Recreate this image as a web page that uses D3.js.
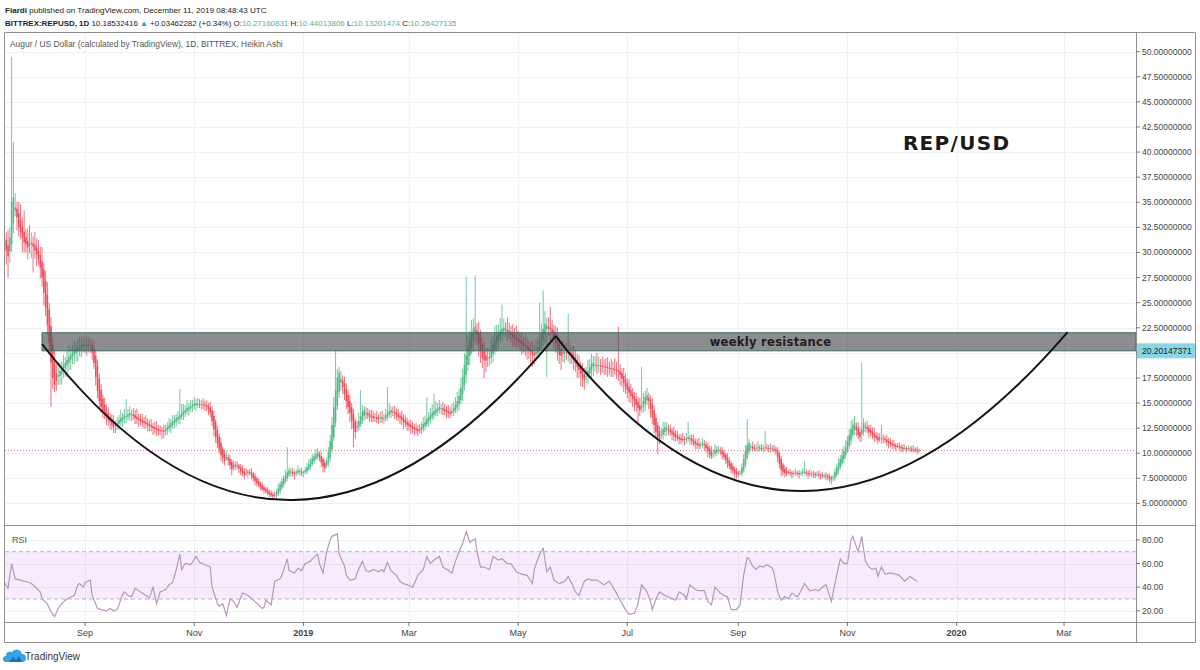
<!DOCTYPE html>
<html><head><meta charset="utf-8"><title>REP/USD Heikin Ashi</title>
<script src="https://cdn.jsdelivr.net/npm/d3@7/dist/d3.min.js"></script>
<style>html,body{margin:0;padding:0;background:#fff;}svg{display:block;font-family:"Liberation Sans",Arial,sans-serif;}</style>
</head><body>
<svg id="chart" width="1200" height="670"></svg>
<script>
// ---------------- DATA ----------------
const startDate = "2018-07-18";
const firstOpen = 31.4;
// Heikin Ashi close per day
const haClose = [
31.0,30.2,29.6,31.5,35.0,35.5,34.5,33.5,32.5,32.0,31.5,31.0,30.8,30.5,30.8,31.0,
30.6,30.2,29.8,29.4,28.5,27.5,26.0,24.5,22.8,21.0,19.0,17.5,16.8,17.2,17.8,18.2,
18.5,18.8,19.0,19.3,19.6,19.8,20.0,20.2,20.4,20.5,20.6,20.8,20.9,20.8,20.7,20.9,
20.8,20.0,19.0,17.6,16.2,15.2,14.6,14.2,13.9,13.6,13.3,13.1,12.8,12.6,12.8,13.0,
13.3,13.5,13.6,13.8,13.7,13.9,14.0,13.9,13.7,13.5,13.4,13.3,13.2,13.1,13.0,12.9,
12.8,12.7,12.6,12.5,12.4,12.3,12.2,12.3,12.2,12.1,12.4,12.6,12.8,13.0,13.2,13.3,
13.5,13.6,13.8,14.0,14.2,14.3,14.5,14.6,14.7,14.8,14.9,15.0,14.9,14.8,14.9,14.8,
14.7,14.6,14.4,14.0,13.2,12.4,11.6,11.0,10.4,9.8,9.5,9.2,9.6,9.3,8.8,8.4,
8.6,8.9,8.7,8.5,8.2,8.0,7.8,8.0,8.2,8.1,7.8,7.5,7.2,7.0,6.8,6.6,
6.4,6.3,6.2,6.0,5.9,5.8,5.7,5.8,6.1,6.5,6.9,7.2,7.5,7.8,8.1,8.3,
8.2,8.0,7.9,8.1,8.3,8.2,8.0,8.1,8.3,8.6,8.9,9.2,9.5,9.7,9.9,10.1,
9.6,9.1,8.7,8.5,9.2,10.1,11.2,12.8,14.6,16.3,17.5,18.0,17.4,16.6,15.9,15.2,
14.6,14.0,13.2,12.5,12.1,12.6,13.2,13.7,14.1,14.3,14.0,13.8,13.6,13.7,13.5,13.6,
13.4,13.5,13.6,13.4,13.5,13.8,14.0,14.2,14.3,14.1,14.0,13.8,13.6,13.5,13.3,13.1,
13.0,12.8,12.7,12.6,12.5,12.4,12.3,12.2,12.3,12.6,12.9,13.1,13.4,13.6,13.8,14.0,
14.2,14.4,14.5,14.6,14.5,14.3,14.2,14.1,14.0,13.9,14.2,14.5,14.8,15.2,15.7,16.5,
17.6,18.8,19.8,20.6,21.4,22.0,22.4,22.6,21.8,21.0,20.2,19.5,19.3,19.2,19.4,19.6,
20.2,20.8,21.3,21.7,22.0,22.2,22.4,22.5,22.3,22.1,22.0,21.8,21.6,21.4,21.3,21.1,
21.0,20.8,20.7,20.6,20.4,20.2,20.0,19.8,19.7,20.1,20.6,21.2,21.8,22.4,22.9,22.7,
22.5,22.3,22.0,21.5,21.0,20.4,19.8,19.7,19.9,20.1,20.0,20.2,20.0,19.7,19.3,19.0,
18.6,18.3,17.9,17.5,17.3,17.7,18.2,18.6,18.9,19.0,18.8,18.7,18.8,18.7,18.6,18.6,
18.5,18.5,18.4,18.4,18.3,18.3,18.2,18.1,17.8,17.4,17.0,16.6,16.3,16.0,15.7,15.4,
15.1,14.8,14.5,14.3,14.7,15.2,15.6,15.8,15.2,14.4,13.6,12.8,12.1,11.6,11.4,11.9,
12.4,12.6,12.5,12.3,12.1,11.9,11.7,11.6,11.5,11.4,11.3,11.4,11.3,11.5,11.6,11.4,
11.2,11.0,10.9,10.8,10.7,10.9,11.0,10.8,10.5,10.2,9.9,9.7,10.0,10.3,10.4,10.3,
10.2,9.9,9.6,9.3,9.0,8.7,8.4,8.2,8.0,7.9,7.9,8.0,8.6,9.4,10.2,10.8,
11.0,10.7,10.5,10.4,10.5,10.6,10.5,10.4,10.5,10.6,10.5,10.4,10.5,10.4,10.3,10.2,
9.6,8.9,8.3,8.1,8.0,8.0,8.1,8.0,7.9,8.0,8.1,8.0,7.9,8.0,8.2,8.1,
8.0,7.9,7.9,8.0,7.9,7.8,7.9,7.8,7.8,7.7,7.8,7.7,7.6,7.5,7.4,7.6,
8.1,8.6,9.0,9.4,9.8,10.2,10.6,11.2,11.8,12.4,12.8,13.0,12.3,11.8,11.6,12.4,
13.0,12.7,12.4,12.1,12.0,11.8,11.6,11.5,11.3,11.4,11.5,11.4,11.3,11.1,11.0,10.9,
10.8,10.7,10.6,10.7,10.6,10.5,10.4,10.5,10.4,10.5,10.4,10.3,10.4,10.3,10.2,10.26427135
];
// upper wick beyond body, per day
const wickHigh = [
1.2,0.8,1.5,1.0,0.6,0.9,1.4,0.7,1.1,1.6,0.9,1.3,0.8,1.2,1.9,1.0,
0.7,1.3,0.9,1.1,0.8,1.4,0.6,1.0,1.2,0.7,0.9,0.8,1.1,0.9,1.3,0.8,
0.7,1.0,0.6,0.9,1.2,0.7,0.8,1.1,0.6,0.9,1.0,0.7,0.8,0.6,0.9,0.7,
0.6,0.5,0.8,0.6,0.7,0.5,0.6,0.4,0.7,0.5,0.6,0.4,0.5,0.7,0.4,0.6,
0.5,0.8,0.4,0.6,0.9,0.5,0.7,0.4,0.6,0.5,0.8,0.4,0.5,0.6,0.4,0.7,
0.5,0.4,0.6,0.3,0.5,0.7,0.4,0.5,0.3,0.6,0.4,0.5,0.7,0.4,0.6,0.5,
0.4,0.6,0.5,0.9,0.7,0.5,0.8,0.4,0.6,0.5,0.7,0.4,0.6,0.5,0.4,0.6,
0.4,0.5,0.3,0.6,0.4,0.5,0.3,0.4,0.3,0.5,0.3,0.4,0.6,0.3,0.4,0.3,
0.5,0.3,0.4,0.2,0.3,0.4,0.3,0.5,0.2,0.3,0.4,0.2,0.3,0.2,0.3,0.2,
0.3,0.2,0.2,0.3,0.2,0.3,0.2,0.4,0.3,0.5,0.3,0.4,0.3,0.5,0.4,0.3,
0.3,0.4,0.2,0.3,0.5,0.3,0.4,0.2,0.3,0.4,0.5,0.3,0.4,0.3,0.5,0.4,
0.3,0.4,0.2,0.3,0.4,0.5,0.6,0.8,1.0,0.7,0.9,0.6,0.8,0.5,0.7,0.6,
0.5,0.6,0.4,0.5,0.3,0.6,0.8,0.5,0.7,0.4,0.6,0.5,0.4,0.6,0.5,0.4,
0.6,0.4,0.5,0.7,0.4,0.6,0.5,0.8,0.4,0.5,0.6,0.4,0.5,0.3,0.6,0.4,
0.5,0.4,0.3,0.5,0.4,0.3,0.5,0.4,0.6,0.5,0.7,0.6,0.8,0.5,0.7,0.9,
0.6,0.8,0.5,0.7,0.4,0.6,0.5,0.4,0.6,0.5,0.7,0.6,0.8,0.9,0.7,1.0,
0.8,1.2,0.9,1.1,0.8,1.3,1.0,0.9,0.7,1.1,0.8,0.6,0.9,0.7,1.0,0.8,
1.2,0.9,1.4,1.1,0.8,1.3,1.0,0.9,0.7,1.2,0.8,0.6,0.9,0.7,1.1,0.8,
0.7,0.9,0.6,1.0,0.8,0.6,0.7,0.9,0.8,1.2,1.0,1.4,1.1,0.9,1.3,0.8,
1.0,0.7,0.9,0.6,0.8,1.1,0.7,0.9,1.2,0.8,1.0,0.7,0.9,0.6,0.8,0.7,
0.6,0.8,0.5,0.7,0.6,0.9,1.1,0.8,1.0,0.7,0.9,1.2,0.8,0.6,0.9,0.7,
0.8,1.0,0.6,0.9,0.7,1.1,0.8,0.6,0.7,0.5,0.8,0.6,0.5,0.7,0.6,0.5,
0.4,0.6,0.5,0.7,0.9,0.8,0.6,0.7,0.5,0.4,0.6,0.5,0.4,0.3,0.5,0.6,
0.7,0.5,0.6,0.4,0.5,0.3,0.6,0.4,0.5,0.3,0.4,0.6,0.3,0.5,0.4,0.3,
0.4,0.5,0.3,0.4,0.6,0.3,0.5,0.4,0.3,0.4,0.3,0.5,0.4,0.6,0.3,0.4,
0.3,0.4,0.3,0.2,0.4,0.3,0.2,0.3,0.2,0.3,0.2,0.3,0.4,0.5,0.6,0.5,
0.4,0.3,0.5,0.3,0.4,0.6,0.3,0.4,0.3,0.5,0.4,0.3,0.5,0.3,0.4,0.3,
0.3,0.2,0.3,0.2,0.3,0.4,0.2,0.3,0.2,0.3,0.4,0.2,0.3,0.2,0.3,0.2,
0.3,0.2,0.4,0.2,0.3,0.2,0.3,0.4,0.2,0.3,0.2,0.3,0.2,0.3,0.2,0.3,
0.4,0.3,0.5,0.4,0.6,0.5,0.7,0.5,0.6,0.8,0.5,0.7,0.4,0.6,0.5,0.6,
0.5,0.4,0.6,0.3,0.5,0.4,0.6,0.3,0.4,0.5,0.3,0.4,0.3,0.5,0.3,0.4,
0.3,0.4,0.2,0.3,0.4,0.2,0.3,0.4,0.2,0.3,0.2,0.3,0.4,0.2,0.3,0.2
];
// lower wick beyond body, per day
const wickLow = [
0.9,1.4,0.7,1.2,0.8,1.0,0.6,1.3,0.9,0.7,1.5,1.0,0.8,1.2,0.9,1.4,
1.0,0.8,1.2,0.7,1.1,0.9,1.3,0.8,1.0,1.2,0.9,1.1,0.7,1.0,0.8,0.9,
1.1,0.7,0.9,1.2,0.8,1.0,0.7,0.9,0.8,1.1,0.7,0.9,0.6,0.8,1.0,0.7,
0.8,0.7,0.6,0.9,0.7,0.8,0.6,0.7,0.5,0.8,0.6,0.7,0.5,0.6,0.8,0.5,
0.6,0.4,0.7,0.5,0.6,0.4,0.5,0.7,0.4,0.6,0.5,0.7,0.4,0.5,0.6,0.4,
0.6,0.5,0.4,0.7,0.5,0.6,0.4,0.5,0.8,0.6,0.4,0.5,0.3,0.6,0.4,0.5,
0.5,0.4,0.6,0.3,0.5,0.4,0.3,0.6,0.4,0.5,0.3,0.6,0.4,0.3,0.5,0.4,
0.5,0.4,0.6,0.4,0.5,0.7,0.6,0.5,0.4,0.6,0.5,0.4,0.3,0.5,0.4,0.6,
0.3,0.4,0.3,0.5,0.4,0.3,0.4,0.3,0.5,0.3,0.4,0.3,0.4,0.3,0.2,0.3,
0.2,0.3,0.2,0.2,0.3,0.2,0.3,0.2,0.3,0.2,0.3,0.2,0.3,0.2,0.3,0.2,
0.4,0.3,0.5,0.3,0.2,0.4,0.3,0.5,0.2,0.3,0.2,0.3,0.2,0.3,0.2,0.3,
0.4,0.5,0.6,0.4,0.3,0.3,0.4,0.3,0.4,0.5,0.4,0.6,0.8,0.7,0.6,0.8,
0.7,0.9,0.8,1.0,0.7,0.5,0.4,0.3,0.4,0.5,0.6,0.4,0.5,0.6,0.4,0.5,
0.4,0.6,0.5,0.4,0.6,0.3,0.4,0.3,0.5,0.4,0.6,0.5,0.4,0.6,0.5,0.7,
0.4,0.6,0.5,0.7,0.5,0.6,0.4,0.5,0.3,0.4,0.3,0.4,0.3,0.5,0.4,0.3,
0.4,0.3,0.5,0.4,0.6,0.5,0.4,0.6,0.5,0.4,0.3,0.4,0.3,0.5,0.6,0.4,
0.7,0.5,0.8,0.6,0.9,0.7,1.2,0.8,1.1,1.4,1.2,1.0,0.9,1.1,0.8,0.7,
0.6,0.8,0.5,0.7,0.9,0.6,0.8,0.5,0.7,0.9,0.6,0.8,1.0,0.7,0.9,0.6,
0.8,1.0,0.7,0.9,1.1,0.8,1.0,1.2,0.9,0.7,0.6,0.8,0.5,0.7,0.9,1.2,
0.8,1.1,0.9,1.3,1.0,1.2,0.9,1.4,0.8,1.0,0.7,0.9,1.1,0.8,1.0,0.9,
1.1,0.8,1.2,0.9,0.7,0.6,0.8,0.5,0.7,0.9,0.6,0.8,0.7,0.9,0.6,0.8,
0.7,0.9,0.6,0.8,0.7,0.5,0.8,0.9,1.0,0.8,0.9,0.7,0.8,0.9,0.7,0.8,
0.9,0.7,0.8,0.6,0.5,0.6,0.7,0.5,0.8,0.9,0.7,0.8,0.6,0.7,0.5,0.4,
0.5,0.4,0.6,0.5,0.4,0.6,0.5,0.4,0.3,0.5,0.4,0.3,0.5,0.4,0.3,0.5,
0.4,0.3,0.5,0.4,0.3,0.4,0.3,0.5,0.4,0.6,0.4,0.3,0.4,0.3,0.4,0.3,
0.4,0.5,0.3,0.4,0.5,0.3,0.4,0.3,0.5,0.4,0.3,0.2,0.3,0.2,0.3,0.2,
0.3,0.4,0.3,0.2,0.3,0.4,0.3,0.2,0.4,0.3,0.2,0.3,0.4,0.3,0.2,0.4,
0.5,0.4,0.6,0.3,0.4,0.3,0.2,0.3,0.4,0.3,0.2,0.3,0.4,0.2,0.3,0.2,
0.3,0.4,0.2,0.3,0.4,0.3,0.2,0.3,0.4,0.2,0.3,0.4,0.3,0.4,0.5,0.3,
0.3,0.2,0.3,0.2,0.3,0.4,0.3,0.2,0.3,0.4,0.3,0.5,0.6,0.4,0.5,0.7,
0.4,0.5,0.4,0.6,0.3,0.4,0.5,0.3,0.4,0.3,0.5,0.4,0.3,0.4,0.5,0.3,
0.4,0.3,0.4,0.2,0.3,0.4,0.3,0.2,0.3,0.2,0.3,0.2,0.3,0.2,0.3,0.2
];
// notable wick extremes (absolute prices)
const spikeHighDay = [4,5,11,68,98,158,185,199,214,236,240,258,263,278,299,301,305,315,343,356,382,415,425,447,474,479,490];
const spikeHighVal = [49.5,41.0,34.2,15.4,16.4,10.6,20.3,16.3,16.6,15.6,15.9,27.6,27.7,24.8,25.0,26.2,24.6,23.9,22.6,18.6,13.1,13.4,12.2,9.2,13.4,19.0,12.8];
const spikeLowDay = [2,16,26,61,195,268,303,324,354,365,462];
const spikeLowVal = [27.5,28.0,14.6,12.0,10.6,17.5,17.6,16.3,12.9,9.9,7.0];

// RSI line vertices: day offset from startDate, value
const rsiDay = [
0,2,4,6,9,11,14,16,18,20, 21,24,25,27,28,30,32,34,36,39, 41,42,44,45,48,49,52,54,57,59,
61,63,66,67,69,71,73,74,77,79, 81,83,85,87,90,92,94,96,98,99, 101,104,105,107,109,112,115,116,119,120,
122,124,126,128,130,133,135,137,139,142, 144,145,146,149,151,154,155,158,159,162, 164,166,168,171,172,175,176,178,180,182,
183,186,187,190,191,193,196,197,200,202, 204,206,209,211,212,214,216,219,221,223, 225,228,229,231,234,236,238,240,243,245,
248,250,252,254,256,258,260,263,264,266, 268,271,273,276,278,281,283,286,289,292, 295,296,299,301,303,305,307,310,313,315,
317,319,321,324,326,328,331,333,335,338, 340,342,344,347,349,352,354,356,359,361, 362,364,366,369,372,375,377,380,381,383,
386,388,391,393,395,397,400,402,404,406, 409,411,413,415,416,418,420,422,424,426, 429,430,432,434,436,438,440,443,444,447,
450,453,455,457,459,462,465,467,469,471, 473,474,476,477,479,481,483,485,487,488, 490,492,495,498,500,503,506,508,510
];
const rsiVal = [
44,39,60,47,46,45,44,42,39,36, 30,26,22,17,15,22,26,29,31,33, 42,43,40,44,46,33,22,21,20,22,
20,21,34,36,33,32,39,38,35,33, 31,40,26,36,38,42,44,55,68,55, 60,59,61,66,61,59,57,40,26,24,
26,16,30,28,23,35,34,32,29,25, 22,23,29,25,45,47,50,64,54,52, 56,54,60,62,64,68,60,52,70,80,
83,85,68,58,50,46,47,52,62,54, 53,55,53,55,53,61,54,50,45,43, 42,40,43,50,55,66,60,63,66,57,
54,52,62,70,77,87,78,81,70,57, 57,55,66,63,64,60,60,53,51,50, 43,55,68,73,53,57,46,43,45,49,
43,36,33,45,47,46,46,44,42,45, 40,35,29,21,17,18,26,42,36,28, 21,30,36,33,31,29,36,33,30,42,
38,37,37,28,25,40,35,33,32,21, 21,25,50,65,64,58,55,58,57,59, 56,52,36,29,32,30,35,32,34,43,
37,38,37,40,42,28,50,64,60,60, 80,83,74,70,83,62,57,55,56,49, 57,51,52,51,50,45,49,47,45
];

const priceTicks = [5,7.5,10,12.5,15,17.5,20,22.5,25,27.5,30,32.5,35,37.5,40,42.5,45,47.5,50];
const rsiTicks = [20,40,60,80];
const timeTicks = ["2018-09-01","2018-11-01","2019-01-01","2019-03-01","2019-05-01","2019-07-01","2019-09-01","2019-11-01","2020-01-01","2020-03-01"];
const timeLabels = ["Sep","Nov","2019","Mar","May","Jul","Sep","Nov","2020","Mar"];

// drawings
const resistanceTop = 22.0, resistanceBottom = 20.20147371, resistanceStart = "2018-08-08";
const cup1Dates = ["2018-08-08","2018-12-23","2019-05-22"], cup1Prices = [20.88,-10.6,21.67];
const cup2Dates = ["2019-05-22","2019-10-03","2020-03-03"], cup2Prices = [21.67,-9.4,22.07];
const lastPrice = 10.26427135;

// ---------------- CHART ----------------
const UP = "#53b987", DOWN = "#eb4d5c";
const svg = d3.select("#chart");
const P = {l:5, r:1136, t:32, b:525};
const R = {t:525, b:622};
const AX = {b:642, right:1195};

const x = d3.scaleUtc().domain([new Date("2018-09-01"), new Date("2020-03-01")]).range([85, 1064]);
const y = d3.scaleLinear().domain([5, 50]).range([503.4, 51.7]);
const yr = d3.scaleLinear().domain([30, 70]).range([599, 551.7]);

const defs = svg.append("defs");
defs.append("clipPath").attr("id","clipMain").append("rect").attr("x",P.l).attr("y",P.t).attr("width",P.r-P.l).attr("height",P.b-P.t);
defs.append("clipPath").attr("id","clipRsi").append("rect").attr("x",P.l).attr("y",R.t).attr("width",P.r-P.l).attr("height",R.b-R.t);

// fit a text element to a target width by scaling its font size
function fitWidth(sel, target){
  const n = sel.node(); const fs = parseFloat(sel.attr("font-size"));
  const w = n.getComputedTextLength();
  if (w > 0) sel.attr("font-size", (fs*target/w).toFixed(2)+"px");
}

// header
const hdr = svg.append("g").attr("fill","#222");
const h1 = hdr.append("text").attr("x",5).attr("y",13).attr("font-size",10);
h1.append("tspan").attr("font-weight","bold").text("Fiardi");
h1.append("tspan").text(" published on TradingView.com, December 11, 2019 08:48:43 UTC");
fitWidth(h1, 262);
const h2 = hdr.append("text").attr("x",5).attr("y",26).attr("font-size",10);
h2.append("tspan").attr("font-weight","bold").text("BITTREX:REPUSD, 1D");
h2.append("tspan").text(" 10.18532416 ");
h2.append("tspan").attr("fill","#26a69a").text("▲");
h2.append("tspan").text(" +0.03462282 (+0.34%) ");
[["O:","10.27160831"],["H:","10.44013806"],["L:","10.13201474"],["C:","10.26427135"]].forEach(([k,v],i)=>{
  h2.append("tspan").text((i?" ":"")+k);
  h2.append("tspan").attr("fill","#4fb3a3").text(v);
});
fitWidth(h2, 452);

// grid
const grid = svg.append("g").attr("stroke","#eef1f5").attr("stroke-width",1);
grid.selectAll("line.h").data(priceTicks).join("line")
  .attr("x1",P.l).attr("x2",P.r).attr("y1",d=>Math.round(y(d))+0.5).attr("y2",d=>Math.round(y(d))+0.5);
grid.selectAll("line.r").data(rsiTicks).join("line")
  .attr("x1",P.l).attr("x2",P.r).attr("y1",d=>Math.round(yr(d))+0.5).attr("y2",d=>Math.round(yr(d))+0.5);
grid.selectAll("line.v").data(timeTicks).join("line")
  .attr("x1",d=>Math.round(x(new Date(d)))+0.5).attr("x2",d=>Math.round(x(new Date(d)))+0.5)
  .attr("y1",P.t).attr("y2",R.b);

// candles (Heikin Ashi)
const t0 = Date.parse(startDate+"T00:00:00Z");
const DAY = 864e5;
const haOpen = [];
haClose.forEach((c,i)=>{ haOpen.push(i===0 ? firstOpen : (haOpen[i-1]+haClose[i-1])/2); });
const candles = haClose.map((c,i)=>{
  const o = haOpen[i];
  let hi = Math.max(o,c) + wickHigh[i];
  let lo = Math.min(o,c) - wickLow[i];
  const hs = spikeHighDay.indexOf(i); if (hs>=0) hi = Math.max(hi, spikeHighVal[hs]);
  const ls = spikeLowDay.indexOf(i); if (ls>=0) lo = Math.min(lo, spikeLowVal[ls]);
  return {date:new Date(t0+i*DAY), open:o, close:c, high:hi, low:lo};
});
const gc = svg.append("g").attr("clip-path","url(#clipMain)");
gc.selectAll("line.wick").data(candles).join("line")
  .attr("x1",d=>x(d.date)).attr("x2",d=>x(d.date))
  .attr("y1",d=>y(d.high)).attr("y2",d=>y(d.low))
  .attr("stroke",d=>d.close>=d.open?UP:DOWN).attr("stroke-width",0.8);
gc.selectAll("rect.body").data(candles).join("rect")
  .attr("x",d=>x(d.date)-0.75).attr("width",1.5)
  .attr("y",d=>y(Math.max(d.open,d.close)))
  .attr("height",d=>Math.max(0.8, Math.abs(y(d.open)-y(d.close))))
  .attr("fill",d=>d.close>=d.open?UP:DOWN);

// last price dotted line
svg.append("line").attr("x1",P.l).attr("x2",P.r).attr("y1",y(lastPrice)).attr("y2",y(lastPrice))
  .attr("stroke",DOWN).attr("stroke-width",1).attr("stroke-dasharray","1,2").attr("opacity",0.8);

// drawings
const gd = svg.append("g").attr("clip-path","url(#clipMain)");
gd.append("rect").attr("x",x(new Date(resistanceStart))).attr("width",P.r - x(new Date(resistanceStart)))
  .attr("y",y(resistanceTop)).attr("height",y(resistanceBottom)-y(resistanceTop))
  .attr("fill","#4f5257").attr("fill-opacity",0.66).attr("stroke","#3d6b63").attr("stroke-width",1);
gd.append("text").attr("x",x(new Date("2019-09-19"))).attr("y",y(21.1)).attr("dy","0.35em")
  .attr("text-anchor","middle").attr("font-family","'DejaVu Sans',sans-serif").attr("font-weight","bold").attr("font-size","11.5px")
  .attr("fill","#1e1e1e").attr("letter-spacing","0.3px").text("weekly resistance");
function cup(ds, ps){
  const p = ds.map((d,i)=>[x(new Date(d)), y(ps[i])]);
  return `M${p[0][0]},${p[0][1]} Q${p[1][0]},${p[1][1]} ${p[2][0]},${p[2][1]}`;
}
gd.append("path").attr("d",cup(cup1Dates,cup1Prices)).attr("fill","none").attr("stroke","#141414").attr("stroke-width",2);
gd.append("path").attr("d",cup(cup2Dates,cup2Prices)).attr("fill","none").attr("stroke","#141414").attr("stroke-width",2);
gd.append("text").attr("x",x(new Date("2019-12-02"))).attr("y",y(40.9)).attr("dy","0.36em")
  .attr("font-family","'DejaVu Sans',sans-serif").attr("font-weight","bold").attr("font-size","20px")
  .attr("letter-spacing","1.3px").attr("fill","#1a1a1a").text("REP/USD");

// title
const ttl = svg.append("text").attr("x",10).attr("y",46.5).attr("font-size",10).attr("fill","#555")
  .text("Augur / US Dollar (calculated by TradingView), 1D, BITTREX, Heikin Ashi");
fitWidth(ttl, 273);

// RSI pane
const gr = svg.append("g").attr("clip-path","url(#clipRsi)");
gr.append("rect").attr("x",P.l).attr("width",P.r-P.l).attr("y",yr(70)).attr("height",yr(30)-yr(70))
  .attr("fill","#9b27e6").attr("fill-opacity",0.09);
[70,30].forEach(v=>gr.append("line").attr("x1",P.l).attr("x2",P.r).attr("y1",yr(v)).attr("y2",yr(v))
  .attr("stroke","#c7a6d3").attr("stroke-width",1).attr("stroke-dasharray","4,3"));
const rsiPts = rsiDay.map((d,i)=>({date:new Date(t0+d*DAY), v:rsiVal[i]}));
gr.append("path").datum(rsiPts).attr("fill","none").attr("stroke","#b996bd").attr("stroke-width",1.2)
  .attr("d",d3.line().x(d=>x(d.date)).y(d=>yr(d.v)));
svg.append("text").attr("x",12).attr("y",543).attr("font-size","9px").attr("fill","#555").text("RSI");

// frame lines
const fr = svg.append("g").attr("stroke","#8f8f8f").attr("stroke-width",1);
[[4.5,32.5,AX.right,32.5],[4.5,R.t+0.5,AX.right,R.t+0.5],[4.5,R.b+0.5,AX.right,R.b+0.5],[4.5,AX.b+0.5,AX.right,AX.b+0.5],
 [4.5,32.5,4.5,AX.b+0.5],[P.r+0.5,32.5,P.r+0.5,AX.b+0.5],[AX.right+0.5,32.5,AX.right+0.5,AX.b+0.5]]
 .forEach(a=>fr.append("line").attr("x1",a[0]).attr("y1",a[1]).attr("x2",a[2]).attr("y2",a[3]));

// price axis
const fmt8 = d3.format(".8f"), fmt2 = d3.format(".2f");
const pa = svg.append("g").attr("font-size","8.5px").attr("fill","#444");
pa.selectAll("line").data(priceTicks).join("line").attr("x1",P.r).attr("x2",P.r+4)
  .attr("y1",d=>y(d)).attr("y2",d=>y(d)).attr("stroke","#777");
pa.selectAll("text").data(priceTicks).join("text").attr("x",P.r+6).attr("y",d=>y(d)).attr("dy","0.35em").text(d=>fmt8(d));
const ra = svg.append("g").attr("font-size","8.5px").attr("fill","#444");
ra.selectAll("line").data(rsiTicks).join("line").attr("x1",P.r).attr("x2",P.r+4)
  .attr("y1",d=>yr(d)).attr("y2",d=>yr(d)).attr("stroke","#777");
ra.selectAll("text").data(rsiTicks).join("text").attr("x",P.r+6).attr("y",d=>yr(d)).attr("dy","0.35em").text(d=>fmt2(d));
// highlighted label of the resistance bottom
svg.append("rect").attr("x",P.r+1).attr("y",y(resistanceBottom)-7.5).attr("width",AX.right-P.r-1).attr("height",15).attr("fill","#8ad6e5");
svg.append("text").attr("x",P.r+6).attr("y",y(resistanceBottom)).attr("dy","0.35em").attr("font-size","8.5px").attr("fill","#1c1c1c").text(fmt8(resistanceBottom));

// time axis
const ta = svg.append("g").attr("font-size","9px").attr("fill","#444");
ta.selectAll("line").data(timeTicks).join("line").attr("x1",d=>x(new Date(d))).attr("x2",d=>x(new Date(d)))
  .attr("y1",R.b).attr("y2",R.b+4).attr("stroke","#777");
ta.selectAll("text").data(timeTicks).join("text").attr("x",d=>x(new Date(d))).attr("y",636).attr("text-anchor","middle")
  .attr("font-weight",(d,i)=>/^\d/.test(timeLabels[i])?"bold":"normal").text((d,i)=>timeLabels[i]);

// footer logo
const lg = svg.append("g");
lg.append("path").attr("d","M6,662 h16 a4,4 0 0 0 0,-8 a5.5,5.5 0 0 0 -10,-2 a4,4 0 0 0 -6,4 a3,3 0 0 0 0,6 z").attr("fill","#3aa3e3");
lg.append("path").attr("d","M9,662 l4,-5 l3,3 l3,-4 l3,6 z").attr("fill","#1b6fb5");
svg.append("text").attr("x",25).attr("y",659.5).attr("font-size","10px").attr("fill","#333").text("TradingView");
</script>
</body></html>
